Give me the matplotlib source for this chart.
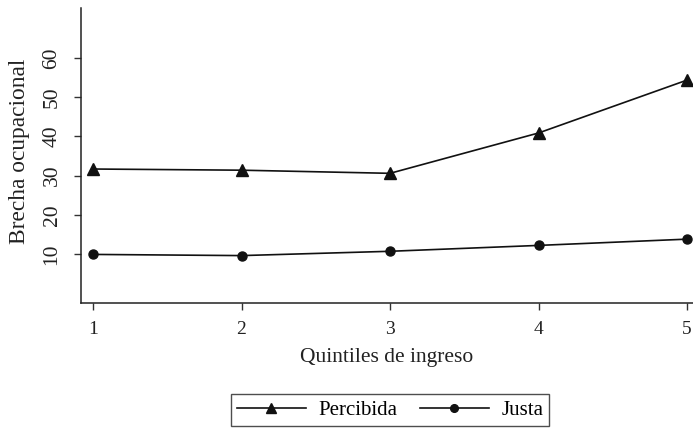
import matplotlib
matplotlib.use("Agg")
import matplotlib.pyplot as plt

quintiles = [1, 2, 3, 4, 5]
percibida = [31.7, 31.4, 30.6, 40.9, 54.4]
justa = [9.9, 9.6, 10.7, 12.2, 13.8]
yticks = [10, 20, 30, 40, 50, 60]

plt.rcParams['font.family'] = ['Liberation Serif', 'DejaVu Serif']

fig = plt.figure(figsize=(6.93, 4.28), dpi=100)
ax = fig.add_axes([81/693, 1 - 303/428, 612/693, 295/428])

ax.plot(quintiles, percibida, color='#111111', lw=1.2, marker='^', ms=8, label='Percibida')
ax.plot(quintiles, justa, color='#111111', lw=1.2, marker='o', ms=6.5, label='Justa')

ax.set_xlim(0.919, 5.04)
ax.set_ylim(-2.5, 72.8)
ax.set_xticks(quintiles)
ax.set_yticks(yticks)
ax.tick_params(length=5, width=1, color='#333333', labelcolor='#222222')
ax.tick_params(axis='y', labelsize=15.5, pad=9)
ax.tick_params(axis='x', labelsize=14, pad=8)
for lab in ax.get_yticklabels():
    lab.set_rotation(90)
    lab.set_va('center')
ax.spines['top'].set_visible(False)
ax.spines['right'].set_visible(False)
for s in ['left', 'bottom']:
    ax.spines[s].set_linewidth(1.1)
    ax.spines[s].set_color('#222222')

ax.set_xlabel('Quintiles de ingreso', fontsize=15.5, color='#222222', labelpad=7)
ax.set_ylabel('Brecha ocupacional', fontsize=16.8, color='#222222')
ax.yaxis.set_label_coords(-0.083, 0.515)

leg = fig.legend(loc='center', bbox_to_anchor=(390/693, 1 - 410/428), ncol=2,
                 fontsize=15, frameon=True, fancybox=False, edgecolor='#222222',
                 handlelength=3.3, handletextpad=0.6, columnspacing=1.1,
                 borderpad=0.3, borderaxespad=0, markerscale=0.85)
leg.get_frame().set_linewidth(1.0)

fig.savefig('out.png', dpi=100)
